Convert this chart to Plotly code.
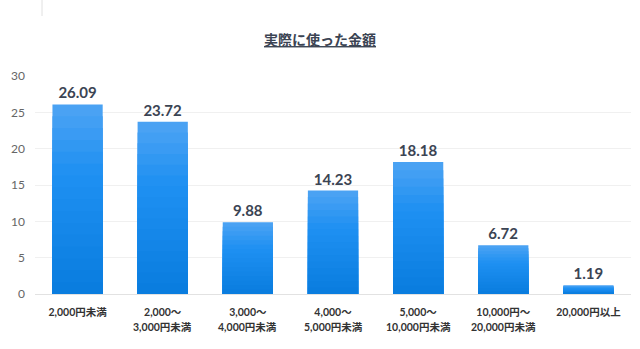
import plotly.graph_objects as go

# 実際に使った金額 (%)
ranges_line1 = [
    "2,000円未満",
    "2,000～",
    "3,000～",
    "4,000～",
    "5,000～",
    "10,000円～",
    "20,000円以上",
]
ranges_line2 = [
    "",
    "3,000円未満",
    "4,000円未満",
    "5,000円未満",
    "10,000円未満",
    "20,000円未満",
    "",
]
values = [26.09, 23.72, 9.88, 14.23, 18.18, 6.72, 1.19]
y_ticks = [0, 5, 10, 15, 20, 25, 30]

FONT = "Lato, 'Noto Sans CJK JP', sans-serif"
LABEL_COLOR = "#3b4453"

x_pos = list(range(len(values)))

fig = go.Figure()


def mix(c1, c2, t):
    a = [int(c1[i:i + 2], 16) for i in (1, 3, 5)]
    b = [int(c2[i:i + 2], 16) for i in (1, 3, 5)]
    return "#" + "".join(f"{round(p + (q - p) * t):02x}" for p, q in zip(a, b))


# vertical shading: full-height light bar, then progressively darker shorter bars
steps = 16
for i in range(steps):
    frac = 1 - i / steps
    t = i / (steps - 1)
    if t < 0.35:
        color = mix("#4aa2f3", "#1f90f2", t / 0.35)
    else:
        color = mix("#1f90f2", "#0a7ddf", (t - 0.35) / 0.65)
    fig.add_trace(go.Bar(
        x=x_pos,
        y=[v * frac for v in values],
        marker=dict(color=color, line=dict(width=0)),
        text=[f"<b>{v:.2f}</b>" for v in values] if i == 0 else None,
        textposition="outside" if i == 0 else "none",
        textfont=dict(family=FONT, size=15, color=LABEL_COLOR),
        cliponaxis=False,
        hoverinfo="skip" if i else "y",
        showlegend=False,
    ))

# second line of the category labels
annotations = [
    dict(x=x, y=0, xref="x", yref="paper", yshift=-41,
         text=f"<b>{t}</b>", showarrow=False,
         font=dict(family=FONT, size=10.5, color="#333333"))
    for x, t in zip(x_pos, ranges_line2) if t
]

fig.update_layout(
    width=640, height=349,
    margin=dict(l=35, r=9, t=76, b=55),
    paper_bgcolor="white",
    plot_bgcolor="white",
    barmode="overlay",
    bargap=0.41,
    title=dict(
        text="<b><u>実際に使った金額</u></b>",
        x=0.5, xanchor="center", y=0.885, yanchor="middle",
        font=dict(family=FONT, size=14, color=LABEL_COLOR),
    ),
    font=dict(family=FONT),
    xaxis=dict(
        tickvals=x_pos,
        ticktext=[f"<b>{t}</b>" for t in ranges_line1],
        tickfont=dict(family=FONT, size=10.5, color="#333333"),
        showgrid=False, showline=False, ticks="",
        ticklabelstandoff=10,
        range=[-0.5, len(values) - 0.5],
    ),
    yaxis=dict(
        range=[0, 30],
        tickvals=y_ticks,
        tickfont=dict(family=FONT, size=12, color="#666666"),
        gridcolor="#f0f0f0",
        zeroline=True, zerolinecolor="#e2e2e2", zerolinewidth=1,
        ticks="", ticklen=0,
        ticklabelstandoff=9,
    ),
    annotations=annotations,
    shapes=[dict(
        type="line", xref="paper", yref="paper",
        x0=(42 - 35) / 596, x1=(42 - 35) / 596,
        y0=1 + 76 / 218, y1=1 + 60 / 218,
        line=dict(color="#e0e0e0", width=1),
    )],
)

fig.write_html("out.html")
